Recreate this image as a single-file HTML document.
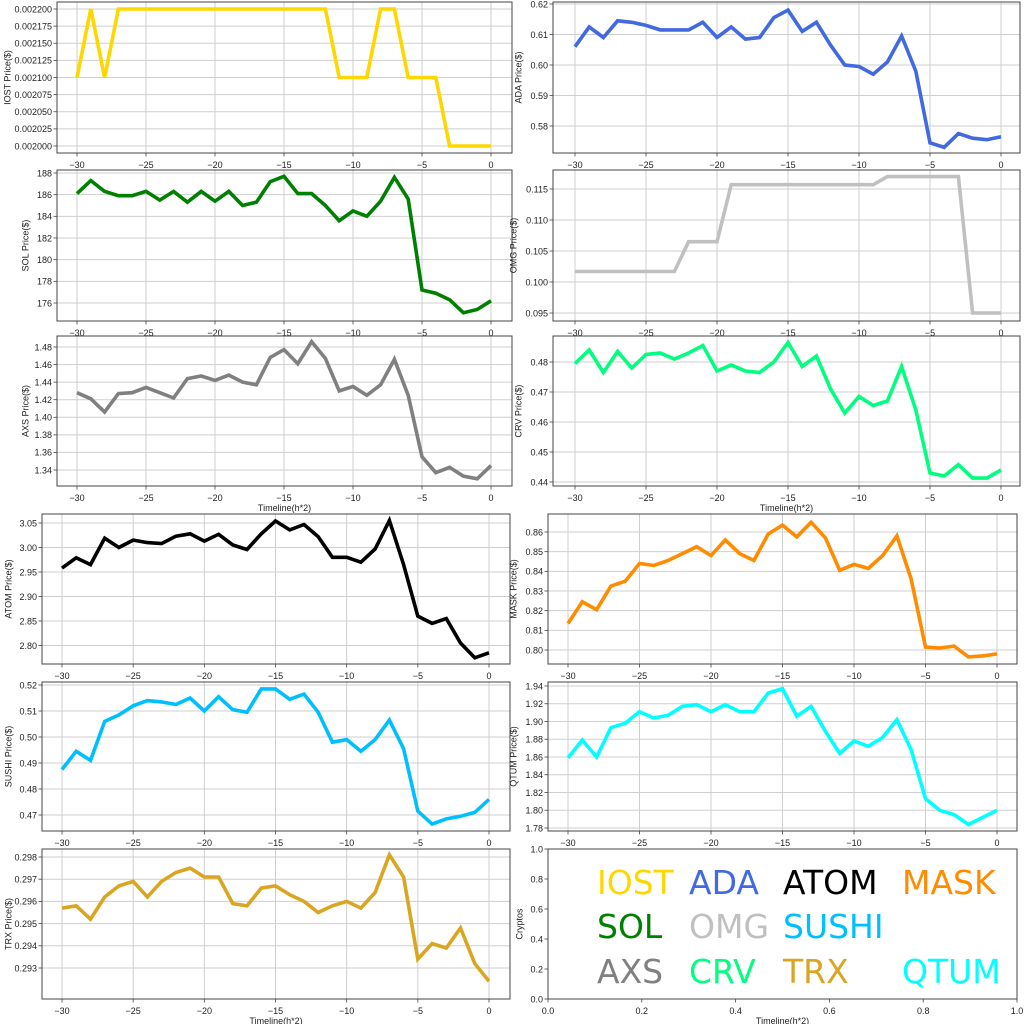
<!DOCTYPE html>
<html><head><meta charset="utf-8"><style>
html,body{margin:0;padding:0;background:#fff;}
svg{display:block;font-family:"Liberation Sans","DejaVu Sans",sans-serif;}
</style></head><body>
<svg id="s" width="1024" height="1024" viewBox="0 0 1024 1024" xmlns="http://www.w3.org/2000/svg">
<rect width="1024" height="1024" fill="#fff"/>
</svg>
<script>
const S=document.getElementById('s');let h='';
function f(v,d){return (v<0?'\u2212':'')+Math.abs(v).toFixed(d);}
const P=[
{l:57,t:2,r:512,b:153,x30:77,x0:491,y1:[0.0022,9],y2:[0.002,146],t0:0.002,t1:0.0022,ts:0.000025,d:6,c:'#FFD700',lab:'IOST Price($)',lx:8,
 v:[2100,2200,2100,2200,2200,2200,2200,2200,2200,2200,2200,2200,2200,2200,2200,2200,2200,2200,2200,2100,2100,2100,2200,2200,2100,2100,2100,2000,2000,2000,2000].map(a=>a*1e-6)},
{l:57,t:170,r:512,b:321,x30:77,x0:491,y1:[188,173],y2:[176,303],t0:176,t1:188,ts:2,d:0,c:'#008000',lab:'SOL Price($)',lx:26,
 v:[186.1,187.3,186.3,185.9,185.9,186.3,185.5,186.3,185.3,186.3,185.4,186.3,185.0,185.3,187.2,187.7,186.1,186.1,185.0,183.6,184.5,184.0,185.4,187.6,185.6,177.2,176.9,176.3,175.1,175.4,176.2]},
{l:57,t:336,r:512,b:486,x30:77,x0:491,y1:[1.48,347],y2:[1.34,470],t0:1.34,t1:1.48,ts:0.02,d:2,c:'#808080',lab:'AXS Price($)',lx:26,xl:true,
 v:[1.428,1.421,1.406,1.427,1.428,1.434,1.428,1.422,1.444,1.447,1.442,1.448,1.440,1.437,1.468,1.477,1.461,1.486,1.467,1.430,1.435,1.425,1.437,1.466,1.425,1.355,1.337,1.343,1.333,1.330,1.345]},
{l:553,t:2,r:1020,b:153,x30:575,x0:1001,y1:[0.62,4],y2:[0.58,126],t0:0.58,t1:0.62,ts:0.01,d:2,c:'#4169E1',lab:'ADA Price($)',lx:519,
 v:[0.606,0.6125,0.609,0.6145,0.614,0.613,0.6115,0.6115,0.6115,0.614,0.609,0.6125,0.6085,0.609,0.6155,0.618,0.611,0.614,0.6065,0.600,0.5995,0.597,0.601,0.6095,0.598,0.5745,0.573,0.5775,0.576,0.5755,0.5765]},
{l:553,t:170,r:1020,b:321,x30:575,x0:1001,y1:[0.115,189],y2:[0.100,282],t0:0.095,t1:0.115,ts:0.005,d:3,c:'#C0C0C0',lab:'OMG  Price($)',lx:514,
 v:[0.1017,0.1017,0.1017,0.1017,0.1017,0.1017,0.1017,0.1017,0.1065,0.1065,0.1065,0.1157,0.1157,0.1157,0.1157,0.1157,0.1157,0.1157,0.1157,0.1157,0.1157,0.1157,0.117,0.117,0.117,0.117,0.117,0.117,0.095,0.095,0.095]},
{l:553,t:336,r:1020,b:486,x30:575,x0:1001,y1:[0.48,362],y2:[0.44,482],t0:0.44,t1:0.48,ts:0.01,d:2,c:'#00FF7F',lab:'CRV  Price($)',lx:519,xl:true,
 v:[0.4795,0.484,0.4765,0.4835,0.478,0.4825,0.483,0.481,0.483,0.4855,0.477,0.479,0.477,0.4765,0.480,0.4865,0.4785,0.482,0.471,0.463,0.4685,0.4655,0.467,0.4785,0.464,0.443,0.442,0.4458,0.4413,0.4413,0.444]},
{l:42,t:514,r:510,b:664,x30:62,x0:489,y1:[3.05,523],y2:[2.80,645.5],t0:2.80,t1:3.05,ts:0.05,d:2,c:'#000000',lab:'ATOM  Price($)',lx:9,
 v:[2.958,2.979,2.965,3.019,3.000,3.015,3.010,3.008,3.023,3.028,3.013,3.027,3.005,2.996,3.028,3.054,3.036,3.047,3.022,2.980,2.980,2.970,2.997,3.055,2.965,2.860,2.845,2.855,2.805,2.775,2.785]},
{l:42,t:682,r:510,b:831,x30:62,x0:489,y1:[0.52,685],y2:[0.47,815],t0:0.47,t1:0.52,ts:0.01,d:2,c:'#00BFFF',lab:'SUSHI  Price($)',lx:9,
 v:[0.4875,0.4945,0.491,0.506,0.5085,0.512,0.514,0.5135,0.5125,0.515,0.510,0.5155,0.5105,0.5095,0.5185,0.5185,0.5145,0.5165,0.5095,0.498,0.499,0.4945,0.499,0.5065,0.4955,0.4715,0.4665,0.4685,0.4695,0.471,0.476]},
{l:42,t:849,r:510,b:999,x30:62,x0:489,y1:[0.298,857],y2:[0.293,968],t0:0.293,t1:0.298,ts:0.001,d:3,c:'#DAA520',lab:'TRX Price($)',lx:9,xl:true,
 v:[0.2957,0.2958,0.2952,0.2962,0.2967,0.2969,0.2962,0.2969,0.2973,0.2975,0.2971,0.2971,0.2959,0.2958,0.2966,0.2967,0.2963,0.2960,0.2955,0.2958,0.2960,0.2957,0.2964,0.2981,0.2971,0.2934,0.2941,0.2939,0.2948,0.2932,0.2924]},
{l:548,t:514,r:1017,b:664,x30:568,x0:997,y1:[0.86,532],y2:[0.80,650],t0:0.80,t1:0.86,ts:0.01,d:2,c:'#FF8C00',lab:'MASK  Price($)',lx:514,
 v:[0.8135,0.8245,0.8205,0.8325,0.835,0.844,0.843,0.8455,0.849,0.8525,0.848,0.856,0.849,0.8455,0.859,0.8635,0.8575,0.865,0.857,0.8405,0.8435,0.8415,0.848,0.858,0.836,0.8015,0.801,0.802,0.7965,0.797,0.798]},
{l:548,t:682,r:1017,b:831,x30:568,x0:997,y1:[1.94,686],y2:[1.78,828],t0:1.78,t1:1.94,ts:0.02,d:2,c:'#00FFFF',lab:'QTUM Price($)',lx:514,
 v:[1.859,1.879,1.860,1.893,1.898,1.911,1.904,1.907,1.917,1.919,1.911,1.919,1.911,1.911,1.932,1.937,1.906,1.917,1.889,1.864,1.878,1.872,1.882,1.902,1.868,1.813,1.800,1.795,1.784,1.792,1.800]}
];
const G='#cfcfcf',A='#444',FS=9;
for(const p of P){
 const X=x=>p.x0+(p.x0-p.x30)/30*x;
 const Y=v=>p.y1[1]+(v-p.y1[0])*(p.y2[1]-p.y1[1])/(p.y2[0]-p.y1[0]);
 for(let x=-30;x<=0;x+=5){const px=X(x);
  h+=`<line x1="${px}" y1="${p.t}" x2="${px}" y2="${p.b}" stroke="${G}" stroke-width="1"/>`;
  h+=`<line x1="${px}" y1="${p.b}" x2="${px}" y2="${p.b+3.5}" stroke="${A}" stroke-width="0.8"/>`;
  h+=`<text x="${px}" y="${p.b+15}" font-size="${FS}" text-anchor="middle" fill="#222">${x<0?'\u2212'+(-x):'0'}</text>`;}
 const n=Math.round((p.t1-p.t0)/p.ts);
 for(let i=0;i<=n;i++){const v=p.t0+i*p.ts,py=Y(v);
  h+=`<line x1="${p.l}" y1="${py}" x2="${p.r}" y2="${py}" stroke="${G}" stroke-width="1"/>`;
  h+=`<line x1="${p.l-3.5}" y1="${py}" x2="${p.l}" y2="${py}" stroke="${A}" stroke-width="0.8"/>`;
  h+=`<text x="${p.l-5}" y="${py+3.3}" font-size="${FS}" text-anchor="end" fill="#222">${f(v,p.d)}</text>`;}
 const pts=p.v.map((v,i)=>X(i-30).toFixed(1)+','+Y(v).toFixed(1)).join(' ');
 h+=`<polyline points="${pts}" fill="none" stroke="${p.c}" stroke-width="3.6" stroke-linejoin="miter" stroke-miterlimit="3"/>`;
 h+=`<rect x="${p.l}" y="${p.t}" width="${p.r-p.l}" height="${p.b-p.t}" fill="none" stroke="${A}" stroke-width="1"/>`;
 const cy=(p.t+p.b)/2;
 h+=`<text x="${p.lx}" y="${cy}" font-size="${FS}" text-anchor="middle" fill="#222" transform="rotate(-90 ${p.lx} ${cy})" dominant-baseline="middle">${p.lab}</text>`;
 if(p.xl)h+=`<text x="${(p.l+p.r)/2}" y="${p.b+25}" font-size="${FS}" text-anchor="middle" fill="#222">Timeline(h*2)</text>`;
}
const L={l:548,t:849,r:1017,b:999};
for(let i=0;i<=5;i++){const v=i*0.2;const px=L.l+(L.r-L.l)*v,py=L.b-(L.b-L.t)*v;
 h+=`<line x1="${px}" y1="${L.b}" x2="${px}" y2="${L.b+3.5}" stroke="${A}" stroke-width="0.8"/>`;
 h+=`<text x="${px}" y="${L.b+15}" font-size="${FS}" text-anchor="middle" fill="#222">${v.toFixed(1)}</text>`;
 h+=`<line x1="${L.l-3.5}" y1="${py}" x2="${L.l}" y2="${py}" stroke="${A}" stroke-width="0.8"/>`;
 h+=`<text x="${L.l-5}" y="${py+3.3}" font-size="${FS}" text-anchor="end" fill="#222">${v.toFixed(1)}</text>`;}
h+=`<rect x="${L.l}" y="${L.t}" width="${L.r-L.l}" height="${L.b-L.t}" fill="none" stroke="${A}" stroke-width="1"/>`;
h+=`<text x="520" y="924" font-size="${FS}" text-anchor="middle" fill="#222" transform="rotate(-90 520 924)" dominant-baseline="middle">Cryptos</text>`;
h+=`<text x="${(L.l+L.r)/2}" y="${L.b+25}" font-size="${FS}" text-anchor="middle" fill="#222">Timeline(h*2)</text>`;
const W=[['IOST','#FFD700',597,894],['ADA','#4169E1',689,894],['ATOM','#000',783,894],['MASK','#FF8C00',902,894],
['SOL','#008000',597,938],['OMG','#C0C0C0',689,938],['SUSHI','#00BFFF',783,938],
['AXS','#808080',597,983],['CRV','#00FF7F',689,983],['TRX','#DAA520',783,983],['QTUM','#00FFFF',902,983]];
for(const w of W)h+=`<text x="${w[2]}" y="${w[3]}" font-size="33" fill="${w[1]}" style="font-family:'DejaVu Sans',sans-serif">${w[0]}</text>`;
S.insertAdjacentHTML('beforeend',h);
</script>
</body></html>
